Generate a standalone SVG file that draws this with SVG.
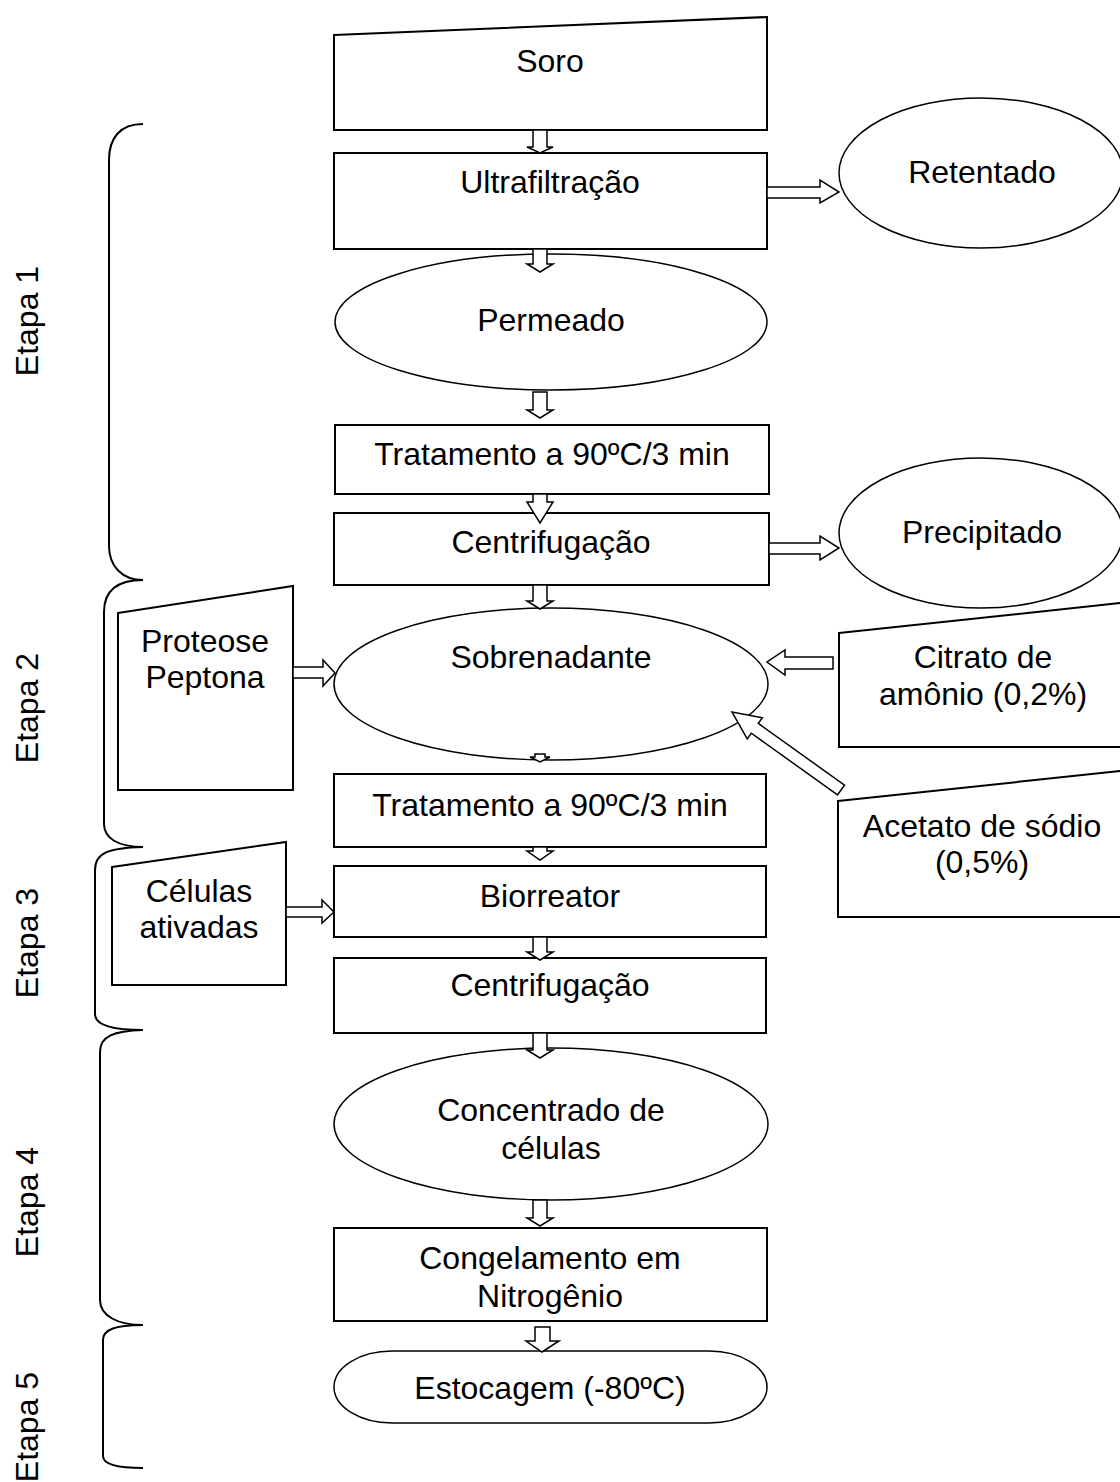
<svg xmlns="http://www.w3.org/2000/svg" width="1120" height="1482" viewBox="0 0 1120 1482">
  <style>
    text { font-family: "Liberation Sans", Arial, sans-serif; font-size: 32px; fill: #000; text-anchor: middle; }
    .box { fill: #fff; stroke: #000; stroke-width: 2; }
    .ell { fill: #fff; stroke: #000; stroke-width: 1.5; }
    .arr { fill: #fff; stroke: #000; stroke-width: 1.5; stroke-linejoin: miter; }
    .brace { fill: none; stroke: #000; stroke-width: 2; }
  </style>

  <rect width="1120" height="1482" fill="#fff"/>

  <!-- stage brackets -->
  <g id="braces">
    <path class="brace" d="M143,124 C120,124 109,138 109,160 L109,546 C109,566 122,580 143,580"/>
    <path class="brace" d="M143,580 C118,580 104,590 104,612 L104,824 C104,838 118,847 143,847"/>
    <path class="brace" d="M143,847 C110,848 95,852 95,870 L95,1014 C95,1026 114,1030 143,1030"/>
    <path class="brace" d="M143,1030 C114,1031 100,1036 100,1052 L100,1300 C100,1316 118,1325 143,1325"/>
    <path class="brace" d="M143,1325 C114,1325 103,1330 103,1340 L103,1456 C103,1464 118,1468 143,1468"/>
  </g>

  <g id="stage-labels">
    <text transform="translate(38,321) rotate(-90)">Etapa 1</text>
    <text transform="translate(38,708) rotate(-90)">Etapa 2</text>
    <text transform="translate(38,943) rotate(-90)">Etapa 3</text>
    <text transform="translate(38,1202) rotate(-90)">Etapa 4</text>
    <text transform="translate(38,1427) rotate(-90)">Etapa 5</text>
  </g>

  <!-- main flow -->
  <g id="soro">
    <polygon class="box" points="334,35 767,17 767,130 334,130"/>
    <text x="550" y="72">Soro</text>
  </g>
  <g id="ultrafiltracao">
    <rect class="box" x="334" y="153" width="433" height="96"/>
    <text x="550" y="193">Ultrafiltração</text>
  </g>
  <g id="retentado">
    <ellipse class="ell" cx="981" cy="173" rx="142" ry="75"/>
    <text x="982" y="183">Retentado</text>
  </g>
  <g id="permeado">
    <ellipse class="ell" cx="551" cy="322" rx="216" ry="68"/>
    <text x="551" y="331">Permeado</text>
  </g>
  <g id="tratamento-1">
    <rect class="box" x="335" y="425" width="434" height="69"/>
    <text x="552" y="465">Tratamento a 90ºC/3 min</text>
  </g>
  <g id="centrifugacao-1">
    <rect class="box" x="334" y="513" width="435" height="72"/>
    <text x="551" y="553">Centrifugação</text>
  </g>
  <g id="precipitado">
    <ellipse class="ell" cx="981" cy="533" rx="142" ry="75"/>
    <text x="982" y="543">Precipitado</text>
  </g>
  <g id="sobrenadante">
    <ellipse class="ell" cx="551" cy="684" rx="217" ry="76"/>
    <text x="551" y="668">Sobrenadante</text>
  </g>
  <g id="proteose-peptona">
    <polygon class="box" points="118,613 293,586 293,790 118,790"/>
    <text x="205" y="652">Proteose</text>
    <text x="205" y="688">Peptona</text>
  </g>
  <g id="citrato">
    <polygon class="box" points="839,633 1130,602 1130,747 839,747"/>
    <text x="983" y="668">Citrato de</text>
    <text x="983" y="705">amônio (0,2%)</text>
  </g>
  <g id="acetato">
    <polygon class="box" points="838,801 1130,770 1130,917 838,917"/>
    <text x="982" y="837">Acetato de sódio</text>
    <text x="982" y="873">(0,5%)</text>
  </g>
  <g id="tratamento-2">
    <rect class="box" x="334" y="774" width="432" height="73"/>
    <text x="550" y="816">Tratamento a 90ºC/3 min</text>
  </g>
  <g id="celulas-ativadas">
    <polygon class="box" points="112,867 286,842 286,985 112,985"/>
    <text x="199" y="902">Células</text>
    <text x="199" y="938">ativadas</text>
  </g>
  <g id="biorreator">
    <rect class="box" x="334" y="866" width="432" height="71"/>
    <text x="550" y="907">Biorreator</text>
  </g>
  <g id="centrifugacao-2">
    <rect class="box" x="334" y="958" width="432" height="75"/>
    <text x="550" y="996">Centrifugação</text>
  </g>
  <g id="concentrado">
    <ellipse class="ell" cx="551" cy="1124" rx="217" ry="76"/>
    <text x="551" y="1121">Concentrado de</text>
    <text x="551" y="1159">células</text>
  </g>
  <g id="congelamento">
    <rect class="box" x="334" y="1228" width="433" height="93"/>
    <text x="550" y="1269">Congelamento em</text>
    <text x="550" y="1307">Nitrogênio</text>
  </g>
  <g id="estocagem">
    <rect class="ell" x="334" y="1351" width="433" height="72" rx="58" ry="36"/>
    <text x="550" y="1399">Estocagem (-80ºC)</text>
  </g>

  <!-- block arrows -->
  <g id="connectors">
    <polygon class="arr" points="533,130 547,130 547,147 553,147 540,153 527,147 533,147"/>
    <polygon class="arr" points="533,249 547,249 547,264 553,264 540,272 527,264 533,264"/>
    <polygon class="arr" points="533,392 547,392 547,410 553,410 540,418 527,410 533,410"/>
    <polygon class="arr" points="533,494 547,494 547,502 553,502 540,523 527,502 533,502"/>
    <polygon class="arr" points="533,585 547,585 547,601 553,601 540,609 527,601 533,601"/>
    <polygon class="arr" points="535,754 545,754 545,757 550,757 540,762 530,757 535,757"/>
    <polygon class="arr" points="533,847 547,847 547,851 553,851 540,860 527,851 533,851"/>
    <polygon class="arr" points="533,937 547,937 547,952 553,952 540,960 527,952 533,952"/>
    <polygon class="arr" points="533,1033 547,1033 547,1050 553,1050 540,1058 527,1050 533,1050"/>
    <polygon class="arr" points="533,1200 547,1200 547,1218 553,1218 540,1226 527,1218 533,1218"/>
    <polygon class="arr" points="535,1327 550,1327 550,1341 559,1341 542,1352 526,1341 535,1341"/>

    <polygon class="arr" points="767,187 820,187 820,180 839,192 820,203 820,198 767,198"/>
    <polygon class="arr" points="769,543 820,543 820,536 839,548 820,560 820,554 769,554"/>
    <polygon class="arr" points="293,667 323,667 323,660 335,673 323,686 323,678 293,678"/>
    <polygon class="arr" points="286,907 322,907 322,900 334,912 322,923 322,917 286,917"/>
    <polygon class="arr" points="833,657 785,657 785,650 767,662 785,675 785,669 833,669"/>
    <polygon class="arr" transform="translate(841,790) rotate(-144.4)" points="0,-6 106,-6 106,-13 134,0 106,13 106,6 0,6"/>
  </g>
</svg>
